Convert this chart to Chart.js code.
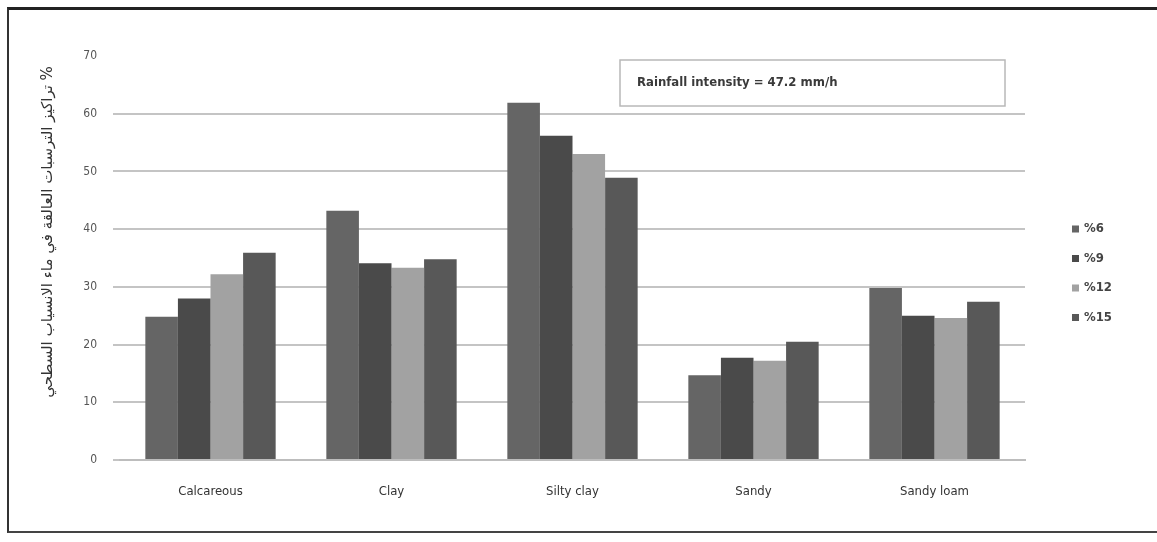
<!DOCTYPE html>
<html>
<head>
<meta charset="utf-8">
<script src="https://cdn.jsdelivr.net/npm/chart.js@4/dist/chart.umd.min.js"></script>
<style>
  html, body { margin: 0; padding: 0; background: #fff; overflow: hidden; }
  #frame {
    position: absolute; left: 7px; top: 7px; width: 1160px; height: 526px;
    border-top: 3px solid #222; border-left: 2px solid #333; border-bottom: 2px solid #444;
    box-sizing: border-box;
  }
  #wrap { position: absolute; left: 0; top: 0; width: 1157px; height: 542px; }
</style>
</head>
<body>
<div id="frame"></div>
<div id="wrap"><canvas id="c" width="1157" height="542"></canvas></div>
<script>
// Soil types on the x axis
const soils = ['Calcareous', 'Clay', 'Silty clay', 'Sandy', 'Sandy loam'];
// Slope classes
const slopeLabels = ['%6', '%9', '%12', '%15'];
// Values per slope class, one entry per soil type
const slope6  = [24.8, 43.2, 61.9, 14.7, 29.8];
const slope9  = [28.0, 34.1, 56.2, 17.7, 25.0];
const slope12 = [32.2, 33.3, 53.0, 17.2, 24.6];
const slope15 = [35.9, 34.8, 48.9, 20.5, 27.4];
const yTicks = [0, 10, 20, 30, 40, 50, 60, 70];
const noteText = 'Rainfall intensity = 47.2 mm/h';
const yTitle = '% تراكيز الترسبات العالقة في ماء الانسياب السطحي';

const barColors = ['#656565', '#4a4a4a', '#a2a2a2', '#585858'];
const seriesValues = [slope6, slope9, slope12, slope15];

// Vertical Arabic axis title, read from top to bottom of the left margin
const axisTitle = {
  id: 'axisTitle',
  afterDraw(chart) {
    const ctx = chart.ctx;
    ctx.save();
    ctx.translate(48, 232);
    ctx.rotate(-Math.PI / 2);
    ctx.direction = 'rtl';
    ctx.textAlign = 'center';
    ctx.textBaseline = 'middle';
    ctx.fillStyle = '#333';
    ctx.font = '15px "DejaVu Sans", sans-serif';
    ctx.fillText(yTitle, 0, 0);
    ctx.restore();
  }
};

// Legend drawn at the right-hand side of the plot
const sideLegend = {
  id: 'sideLegend',
  afterDraw(chart) {
    const ctx = chart.ctx;
    ctx.save();
    ctx.font = 'bold 13px "DejaVu Sans Condensed", "DejaVu Sans", sans-serif';
    ctx.textBaseline = 'middle';
    ctx.textAlign = 'left';
    chart.data.datasets.forEach((ds, i) => {
      const y = 229 + i * 29.5;
      ctx.fillStyle = ds.backgroundColor;
      ctx.fillRect(1072, y - 3.5, 7, 7);
      ctx.fillStyle = '#444';
      ctx.fillText(ds.label, 1084, y);
    });
    ctx.restore();
  }
};

// Boxed note in the upper right of the plot
const noteBox = {
  id: 'noteBox',
  afterDraw(chart) {
    const ctx = chart.ctx;
    ctx.save();
    ctx.fillStyle = '#fff';
    ctx.fillRect(620, 60, 385, 46);
    ctx.strokeStyle = '#b8b8b8';
    ctx.lineWidth = 1.5;
    ctx.strokeRect(620, 60, 385, 46);
    ctx.fillStyle = '#3a3a3a';
    ctx.font = 'bold 13px "DejaVu Sans Condensed", "DejaVu Sans", sans-serif';
    ctx.textBaseline = 'middle';
    ctx.fillText(noteText, 637, 83);
    ctx.restore();
  }
};

new Chart(document.getElementById('c'), {
  type: 'bar',
  data: {
    labels: soils,
    datasets: slopeLabels.map((lab, i) => ({
      label: lab,
      data: seriesValues[i],
      backgroundColor: barColors[i],
      borderWidth: 0,
      categoryPercentage: 0.72,
      barPercentage: 1.0
    }))
  },
  options: {
    responsive: false,
    animation: false,
    devicePixelRatio: 1,
    layout: { padding: { left: 30, right: 132, top: 56, bottom: 20 } },
    plugins: { legend: { display: false }, tooltip: { enabled: false } },
    scales: {
      x: {
        grid: { display: false, drawTicks: false },
        border: { display: true, color: '#bdbdbd', width: 2 },
        ticks: {
          color: '#333',
          padding: 24,
          font: { family: '"DejaVu Sans Condensed", "DejaVu Sans", sans-serif', size: 13 }
        },
        afterFit(s) { s.height = 62; }
      },
      y: {
        min: 0, max: 70,
        afterBuildTicks(s) { s.ticks = yTicks.map(v => ({ value: v })); },
        grid: {
          color: ctx => (ctx.tick && ctx.tick.value === 70) ? 'rgba(0,0,0,0)' : '#c4c4c4',
          lineWidth: 2,
          drawTicks: true,
          tickLength: 7
        },
        border: { display: false },
        ticks: {
          color: '#555',
          padding: 16,
          font: { family: '"DejaVu Sans Condensed", "DejaVu Sans", sans-serif', size: 12 }
        },
        afterFit(s) { s.width = 90; }
      }
    }
  },
  plugins: [axisTitle, sideLegend, noteBox]
});
</script>
</body>
</html>
